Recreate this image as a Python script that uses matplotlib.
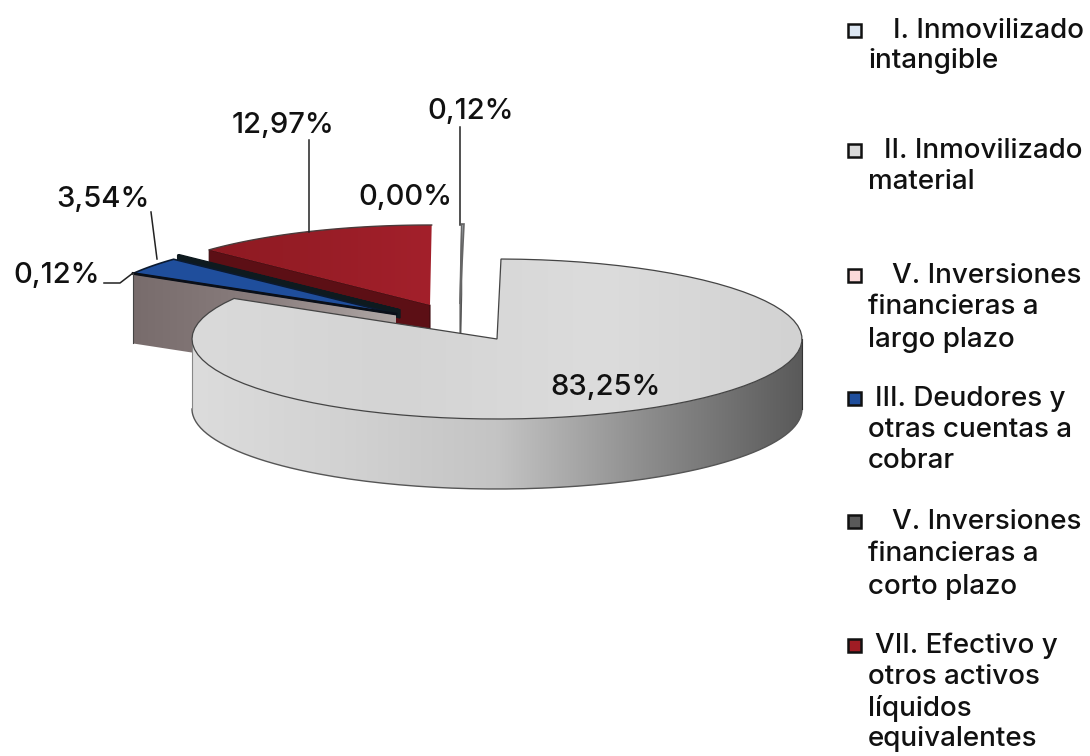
"""Exploded 3D-style pie of asset shares, drawn with patches in pixel coordinates."""
import numpy as np
import matplotlib
matplotlib.use("Agg")
import matplotlib.pyplot as plt
from matplotlib.colors import LinearSegmentedColormap
from matplotlib.patches import Polygon, Rectangle

plt.rcParams["font.family"] = ["Inter", "DejaVu Sans"]

# clockwise from the main slice, same order as the legend apart from the first one
slice_names = ["II", "V_long", "III", "V_short", "VII", "I"]
slice_values = [83.25, 0.00, 3.54, 0.12, 12.97, 0.12]

legend_labels = [
    "I. Inmovilizado\nintangible",
    "II. Inmovilizado\nmaterial",
    "V. Inversiones\nfinancieras a\nlargo plazo",
    "III. Deudores y\notras cuentas a\ncobrar",
    "V. Inversiones\nfinancieras a\ncorto plazo",
    "VII. Efectivo y\notros activos\nlíquidos\nequivalentes",
]
legend_colors = ["#dce6f2", "#d9d9d9", "#fbd9d9", "#1f4e9c", "#595959", "#a01c24"]
legend_first_x = [893, 884, 892, 875, 892, 875]
legend_line_y = [
    [31, 61], [151, 182], [276, 307, 340], [399, 430, 461],
    [522, 554, 587], [646, 677, 708, 739],
]
legend_marker_y = [30, 150, 275, 398, 521, 645]

# geometry of the pie on the page, in pixels
APEX = (497, 339)
RX, RY = 305, 80
DEPTH = 70
START_DEG = 0.75
offsets = {
    "II": (0, 0), "V_long": (0, 0), "III": (-101, -25),
    "V_short": (-97, -29), "VII": (-67, -34), "I": (-37, -35),
}


def rim(theta_deg, apex):
    t = np.radians(theta_deg)
    return np.column_stack([apex[0] + RX * np.sin(t), apex[1] - RY * np.cos(t)])


def gradient_fill(ax, pts, colors, zorder):
    cmap = LinearSegmentedColormap.from_list("g", colors)
    grad = np.linspace(0, 1, 256).reshape(1, -1)
    extent = (pts[:, 0].min(), pts[:, 0].max(), pts[:, 1].max(), pts[:, 1].min())
    im = ax.imshow(grad, cmap=cmap, extent=extent, aspect="auto", zorder=zorder, interpolation="bilinear")
    patch = Polygon(pts, closed=True, transform=ax.transData, facecolor="none", edgecolor="none")
    ax.add_patch(patch)
    im.set_clip_path(patch)


fig = plt.figure(figsize=(10.9, 7.56), dpi=100)
ax = fig.add_axes([0, 0, 1, 1])

# slice angles from the values
ends = START_DEG + np.cumsum(slice_values) * 3.6
starts = np.concatenate([[START_DEG], ends[:-1]])
angles = {n: (s, e) for n, s, e in zip(slice_names, starts, ends)}


def slice_apex(name):
    dx, dy = offsets[name]
    return (APEX[0] + dx, APEX[1] + dy)


def top_face(name):
    s, e = angles[name]
    apex = slice_apex(name)
    arc = rim(np.linspace(s, e, 80), apex)
    return np.vstack([[apex], arc])


def cut_wall(name, depth=DEPTH):
    s, _ = angles[name]
    apex = slice_apex(name)
    p = rim(np.array([s]), apex)[0]
    return np.array([p, apex, (apex[0], apex[1] + depth), (p[0], p[1] + depth)])


# thin sliver at the top
ax.add_patch(Polygon(cut_wall("I"), closed=True, fc="#8a8a8a", ec="#555555", lw=0.8, zorder=2))
ax.add_patch(Polygon(top_face("I"), closed=True, fc="#b8c0c8", ec="#666666", lw=1.2, zorder=2.1))

# red slice
ax.add_patch(Polygon(cut_wall("VII"), closed=True, fc="#5c0f15", ec="#3d0a0e", lw=0.8, zorder=3))
gradient_fill(ax, top_face("VII"), ["#8d1a22", "#a3202b"], 3.1)
ax.plot(*rim(np.linspace(*angles["VII"], 80), slice_apex("VII")).T, color="#4a3a3a", lw=1, zorder=3.2)

# dark sliver between red and blue
ax.add_patch(Polygon(cut_wall("V_short", 8), closed=True, fc="#0e1a1f", ec="#0e1a1f", lw=1, zorder=4))
ax.add_patch(Polygon(top_face("V_short"), closed=True, fc="#18262c", ec="#0e1a1f", lw=1.2, zorder=4.1))

# blue slice and its brown-grey cut face
gradient_fill(ax, cut_wall("III"), ["#786c6c", "#8a7e7e", "#b0a8a6"], 5)
ax.add_patch(Polygon(top_face("III"), closed=True, fc="#1f4e9c", ec="#0b1a30", lw=1.2, zorder=5.1))
ax.plot(*cut_wall("III")[:2].T, color="#0a0f18", lw=2, zorder=5.2)
ax.plot(*cut_wall("III")[[0, 3]].T, color="#444444", lw=0.8, zorder=5.2)

# main slice: front wall first, then the top face
front = rim(np.linspace(90, 270, 160), APEX)
wall = np.vstack([front, front[::-1] + [0, DEPTH]])
gradient_fill(ax, wall, ["#dcdcdc", "#d2d2d2", "#c4c4c4", "#8c8c8c", "#5a5a5a"], 6)
ax.plot(*(front + [0, DEPTH]).T, color="#555555", lw=1, zorder=6.2)
ax.plot([front[0, 0]] * 2, [front[0, 1], front[0, 1] + DEPTH], color="#333333", lw=0.8, zorder=6.2)
ax.plot([front[-1, 0]] * 2, [front[-1, 1], front[-1, 1] + DEPTH], color="#888888", lw=0.8, zorder=6.2)
main_top = top_face("II")
gradient_fill(ax, main_top, ["#dadada", "#d4d4d4", "#dcdcdc", "#d2d2d2"], 7)
ax.add_patch(Polygon(main_top, closed=True, fc="none", ec="#444444", lw=0.9, zorder=7.1))

# leader lines
leaders = [
    ([104, 120, 133], [283, 283, 273]),
    ([151, 157], [212, 259]),
    ([309, 309], [140, 232]),
    ([460, 460], [127, 225]),
]
for xs, ys in leaders:
    ax.plot(xs, ys, color="#222222", lw=1.1, zorder=8)

# data labels
label_text = ["83,25%", "0,00%", "3,54%", "0,12%", "12,97%", "0,12%"]
label_pos = [(606, 388), (405, 198), (103, 199), (57, 275), (283, 126), (471, 112)]
for txt, (x, y) in zip(label_text, label_pos):
    ax.text(x, y, txt, ha="center", va="center", fontsize=21, weight="medium", color="#111111", zorder=9)

# legend
for label, col, my, fx, ys in zip(legend_labels, legend_colors, legend_marker_y, legend_first_x, legend_line_y):
    ax.add_patch(Rectangle((848, my - 6.5), 13, 13, fc=col, ec="#111111", lw=1.8, zorder=9))
    for i, (line, y) in enumerate(zip(label.split("\n"), ys)):
        ax.text(fx if i == 0 else 868, y, line, ha="left", va="center", fontsize=20, weight="medium",
                color="#111111", zorder=9)

ax.set_xlim(0, 1090)
ax.set_ylim(756, 0)
ax.axis("off")
fig.savefig("out.png", dpi=100, facecolor="white")
